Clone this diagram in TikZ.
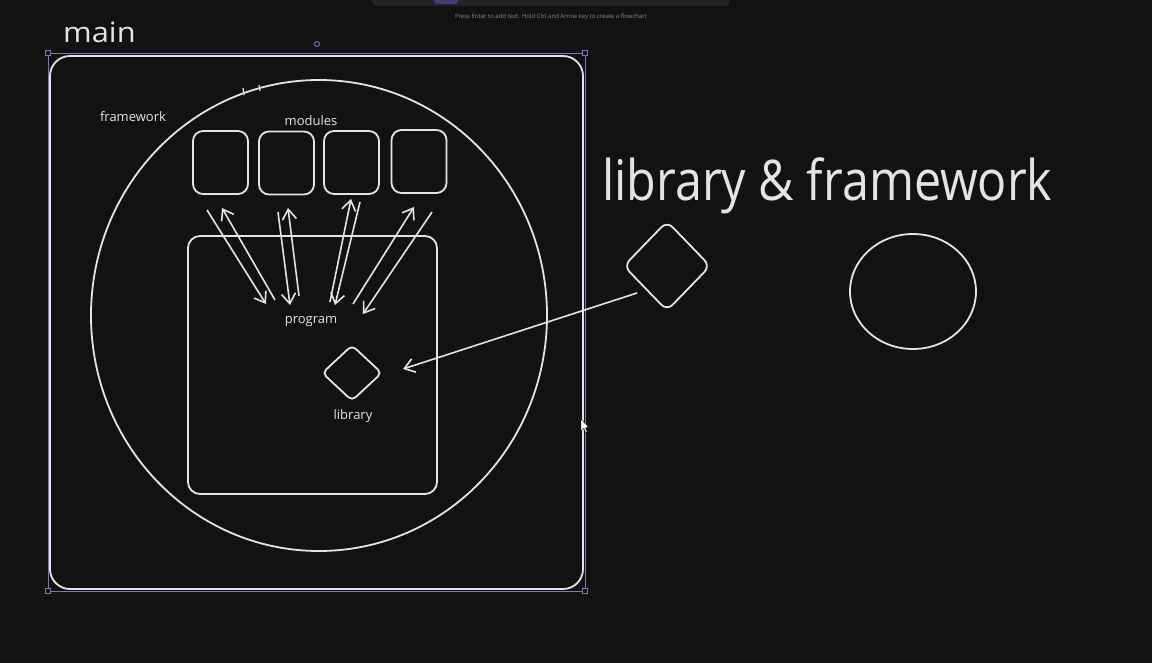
\documentclass[tikz,border=0pt]{standalone}
\usepackage{fontspec}
\setmainfont{Open Sans}
\usetikzlibrary{arrows.meta,shapes.geometric}
\definecolor{bg}{HTML}{121212}
\definecolor{ink}{HTML}{E4E4E4}
\definecolor{sel}{HTML}{7D79B8}
\definecolor{bar}{HTML}{232329}
\definecolor{barbtn}{HTML}{433F72}
\definecolor{hint}{HTML}{8A8A8A}
\tikzset{
  sk/.style={draw=ink, line width=1.8pt},
  modbox/.style={sk, rounded corners=10pt, minimum width=55pt, minimum height=63pt, inner sep=0pt},
  rdia/.style={sk, diamond, rounded corners=5pt, inner sep=0pt},
  arr/.style={draw=ink, line width=1.6pt, -{Straight Barb[length=10pt,width=14pt,line width=1.6pt]}},
  lbl/.style={text=ink, font=\fontsize{13}{15}\selectfont, inner sep=0pt},
  selbox/.style={draw=sel, line width=0.9pt},
  handle/.style={draw=sel, line width=0.9pt, fill=bg, minimum size=5pt, inner sep=0pt},
}
\begin{document}
\begin{tikzpicture}[x=1pt,y=-1pt]
\fill[bg] (0,0) rectangle (1152,663);
\useasboundingbox (0,0) rectangle (1152,663);
% top toolbar
\fill[bar, rounded corners=5pt] (372,-12) rectangle (730,6);
\fill[barbtn, rounded corners=3pt] (434,-12) rectangle (458,4);
\node[text=hint, font=\fontsize{6}{7}\selectfont, inner sep=0pt] (hinttxt) at (551,17) {Press Enter to add text. Hold Ctrl and Arrow key to create a flowchart};

% title
\node[anchor=base west, text=ink, font=\fontsize{28}{32}\selectfont, inner sep=0pt] (maintxt) at (63,43) {\scalebox{1.1}[1]{main}};

% selection box
\draw[selbox] (48,53) rectangle (585,591);
\node[handle, rectangle] (h1) at (48,53) {};
\node[handle, rectangle] (h2) at (585,53) {};
\node[handle, rectangle] (h3) at (48,591) {};
\node[handle, rectangle] (h4) at (585,591) {};
\node[handle, circle, minimum size=5pt] (hr) at (317,44) {};

% main rounded rectangle
\node[sk, rounded corners=20pt, minimum width=533pt, minimum height=533pt, inner sep=0pt] (mainbox) at (316.5,322.5) {};

% framework ellipse
\node[sk, ellipse, minimum width=456pt, minimum height=471pt, inner sep=0pt] (fw) at (319,315.5) {};
\draw[ink, line width=1.2pt] (243,88) -- (244,95);
\draw[ink, line width=1.2pt] (259,85) -- (260,91);

\node[lbl] (fwtxt) at (133,117) {framework};
\node[lbl] (modtxt) at (311,121) {modules};

% modules
\node[modbox] (m1) at (220.5,162.5) {};
\node[modbox] (m2) at (286.5,163) {};
\node[modbox] (m3) at (351.5,162.5) {};
\node[modbox] (m4) at (419,161.5) {};

% program
\node[sk, rounded corners=12pt, minimum width=249pt, minimum height=258pt, inner sep=0pt] (prog) at (312.5,365) {};
\node[lbl] (progtxt) at (311,322) {program};

% library inside
\node[rdia, minimum width=60pt, minimum height=56pt] (lib) at (352,373) {};
\node[lbl] (libtxt) at (353,416) {library};

% arrows between modules and program
\coordinate (a1s) at (207,210); \coordinate (a1e) at (266,304);
\coordinate (b1s) at (275,300); \coordinate (b1e) at (222,208);
\coordinate (a2s) at (278,212); \coordinate (a2e) at (290,305);
\coordinate (b2s) at (299,296); \coordinate (b2e) at (288,208);
\coordinate (a3s) at (330,302); \coordinate (a3e) at (351,199);
\coordinate (b3s) at (360,202); \coordinate (b3e) at (335,305);
\coordinate (a4s) at (353,304); \coordinate (a4e) at (414,207);
\coordinate (b4s) at (432,212); \coordinate (b4e) at (363,314);
\draw[arr] (a1s) -- (a1e);
\draw[arr] (b1s) -- (b1e);
\draw[arr] (a2s) -- (a2e);
\draw[arr] (b2s) -- (b2e);
\draw[arr] (a3s) -- (a3e);
\draw[arr] (b3s) -- (b3e);
\draw[arr] (a4s) -- (a4e);
\draw[arr] (b4s) -- (b4e);

% right side
\node[anchor=base west, text=ink, font=\fontsize{56}{60}\selectfont, inner sep=0pt] (lftxt) at (602,201) {\scalebox{0.865}[1]{library \& framework}};
\node[rdia, minimum width=87pt, minimum height=90pt, rounded corners=8pt] (bigdia) at (667,266) {};
\node[sk, ellipse, minimum width=126pt, minimum height=115pt, inner sep=0pt] (bigcirc) at (913,291.5) {};

\coordinate (bigs) at (637,293);
\coordinate (bige) at (403,369);
\draw[arr] (bigs) -- (bige);

% mouse cursor
\filldraw[fill=white, draw=black, line width=0.4pt] (581,419) -- (581,431) -- (583.8,428.4) -- (585.6,432.5) -- (587.2,431.8) -- (585.4,427.8) -- (589,427.6) -- cycle;
\end{tikzpicture}
\end{document}
